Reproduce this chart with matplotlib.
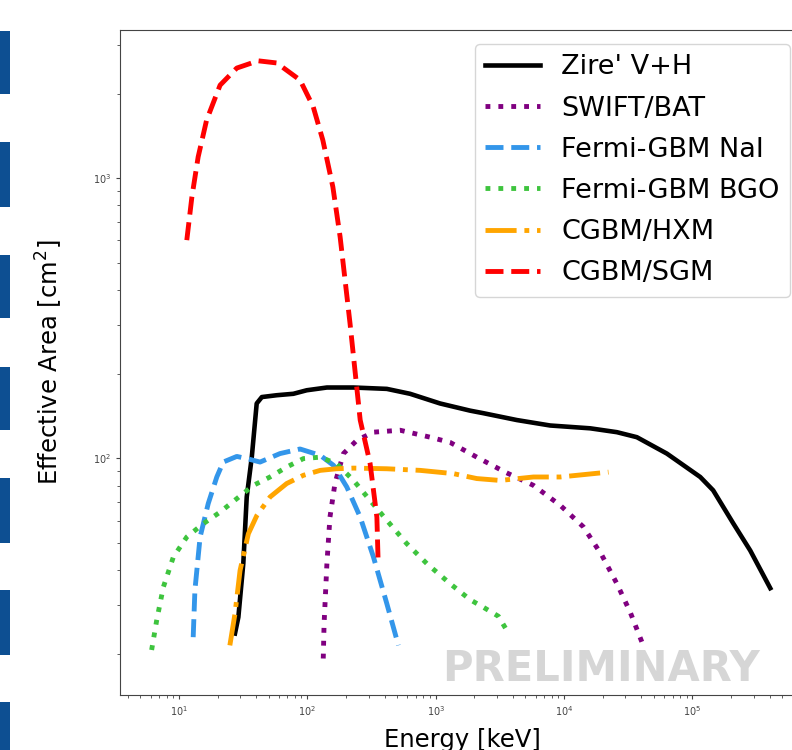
import matplotlib
matplotlib.use('Agg')
import matplotlib.pyplot as plt
from matplotlib.patches import Rectangle

# --- effective area curves (keV, cm^2) ---
zire_e = [27.3, 29.0, 31.7, 33.7, 36.9, 40.3, 44.2, 57.7, 77.8, 98.9, 142, 229, 416, 631,
          1081, 1853, 2340, 4285, 7792, 15970, 25800, 36900, 63200, 115000, 145000,
          208000, 282000, 404000]
zire_a = [23.7, 27.1, 42.2, 72.8, 101, 157, 165.5, 168, 170, 175, 179, 179, 177, 170,
          157, 148, 145, 137, 131, 128, 124, 119, 104, 85.8, 76.9, 58.6, 46.9, 34.4]

bat_e = [133, 135, 142, 150, 164, 191, 243, 327, 528, 904, 1295, 2089, 3475, 5770,
         9330, 14160, 19700, 25800, 32800, 40400]
bat_a = [19.3, 25.7, 42.1, 61.7, 81.3, 104, 116, 124, 126, 119, 114, 101, 89.3, 80.1,
         68, 56.9, 45.1, 35.7, 28.2, 22.1]

nai_e = [12.9, 13.3, 14.6, 16.9, 19.7, 22.1, 28.2, 33.7, 42.8, 61.2, 87.7, 126, 160,
         203, 258, 327, 416, 512]
nai_a = [23.0, 33.8, 52.4, 69, 85.8, 97, 101.6, 99.8, 97, 104, 108, 102.5, 94.4, 79,
         61.7, 44.5, 30.3, 21.5]

bgo_e = [6.12, 6.70, 7.55, 9.03, 11.5, 15.5, 20.9, 28.2, 38.0, 51.2, 69.0, 93.1, 126,
         169, 229, 308, 416, 595, 853, 1295, 1853, 2354, 3083, 3583]
bgo_a = [20.7, 26.4, 34.7, 44.4, 52.4, 58.5, 64.3, 71.8, 80.1, 85.8, 93.1, 99.8, 101,
         95.7, 83.4, 70.8, 60.1, 49.6, 42.1, 35.7, 31.3, 29.4, 27.3, 24.3]

hxm_e = [24.9, 27.3, 29.9, 34.7, 40.4, 51.2, 69.0, 93.1, 126, 169, 229, 416, 755, 1374,
         2089, 3177, 5770, 9330, 16950, 22200]
hxm_a = [21.5, 27.9, 39.8, 53.8, 62.5, 72.8, 81.3, 87, 90.6, 91.8, 92.3, 91.8, 90.6,
         88.2, 84.7, 83.4, 85.8, 85.8, 88.2, 89.3]

sgm_e = [11.5, 12.6, 14.1, 16.4, 20.9, 28.2, 41.3, 57.7, 87.7, 111, 132, 158, 180, 215,
         258, 308, 348, 356]
sgm_a = [601, 857, 1191, 1611, 2148, 2472, 2624, 2578, 2240, 1800, 1367, 931, 617, 303,
         137, 96, 61.7, 42.7]

# slide decoration on the left edge (pixel y ranges)
bar_tops = [31, 142, 255, 367, 478, 590, 702]
bar_bottoms = [94, 207, 318, 430, 543, 655, 760]

W, H = 792, 750
fig = plt.figure(figsize=(W / 100, H / 100), dpi=100)
ax = fig.add_axes([120 / W, 55 / H, 684 / W, 665 / H])

ax.plot(zire_e, zire_a, color='black', lw=3.3, label="Zire' V+H")
ax.plot(bat_e, bat_a, color='purple', lw=3.5, ls=':', label='SWIFT/BAT')
ax.plot(nai_e, nai_a, color='#3396ea', lw=3.5, ls='--', label='Fermi-GBM NaI')
ax.plot(bgo_e, bgo_a, color='#3ec43e', lw=3.5, ls=':', label='Fermi-GBM BGO')
ax.plot(hxm_e, hxm_a, color='orange', lw=3.5, ls='-.', label='CGBM/HXM')
ax.plot(sgm_e, sgm_a, color='red', lw=3.5, ls='--', label='CGBM/SGM')

ax.set_xscale('log')
ax.set_yscale('log')
ax.set_xlim(3.47, 7.4e5)
ax.set_ylim(14.3, 3380)

ax.tick_params(which='both', labelsize=7, colors='#444444', length=3)
ax.tick_params(which='minor', length=2)
for s in ax.spines.values():
    s.set_color('#444444')

ax.set_ylabel('Effective Area [cm$^2$]', fontsize=17.5)
ax.yaxis.set_label_coords(-0.08, 0.5)
ax.set_xlabel('Energy [keV]', fontsize=17.5)
ax.xaxis.set_label_coords(0.5, -0.05)

ax.legend(loc='upper right', fontsize=19.5, labelspacing=0.56)

# watermark, placed in figure pixels
ax.text(601, H - 669, 'PRELIMINARY', transform=None, fontsize=30, fontweight='bold',
        color='#d6d6d6', ha='center', va='center', zorder=0)

for t, b in zip(bar_tops, bar_bottoms):
    fig.add_artist(Rectangle((0, H - b), 10, b - t, transform=None,
                             color='#0d4f92', lw=0))

fig.savefig('out.png', dpi=100)
